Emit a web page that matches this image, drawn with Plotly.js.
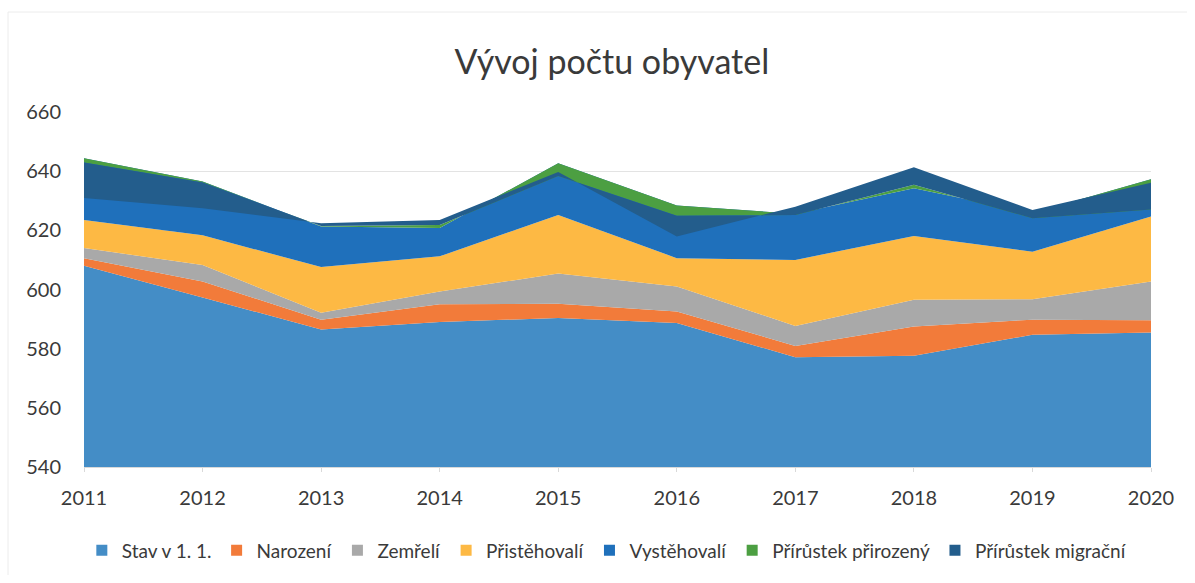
<!DOCTYPE html>
<html>
<head>
<meta charset="utf-8">
<script src="https://cdn.plot.ly/plotly-3.0.1.min.js"></script>
<style>
  html, body { margin: 0; padding: 0; background: #ffffff; }
  #chart { width: 1195px; height: 583px; }
</style>
</head>
<body>
<div id="chart"></div>
<script>
// ---- data ----
const years = [2011, 2012, 2013, 2014, 2015, 2016, 2017, 2018, 2019, 2020];
const stav         = [608.0, 597.3, 586.5, 589.0, 590.4, 588.7, 577.1, 577.6, 584.7, 585.5];
const narozeni     = [2.6, 5.4, 3.3, 6.0, 4.8, 3.9, 3.8, 9.9, 5.1, 4.1];
const zemreli      = [3.4, 5.6, 2.3, 4.3, 10.2, 8.4, 6.8, 9.0, 6.9, 13.1];
const pristehovali = [9.5, 10.0, 15.5, 11.9, 19.8, 9.6, 22.3, 21.6, 16.1, 22.0];
const vystehovali  = [20.9, 18.2, 13.7, 9.6, 17.5, 17.8, 15.6, 16.1, 13.1, 12.6];
const prirozeny    = [-1.5, -0.3, 0.2, 1.0, -4.3, -3.5, -0.4, 1.2, -1.8, -10.3];
const migracni     = [-12.0, -8.7, 0.9, 1.7, 1.3, -7.0, 2.8, 5.9, 2.8, 9.1];
const yTicks       = [540, 560, 580, 600, 620, 640, 660];

const seriesNames = ["Stav v 1. 1.", "Narození", "Zemřelí", "Přistěhovalí", "Vystěhovalí", "Přírůstek přirozený", "Přírůstek migrační"];
const seriesData  = [stav, narozeni, zemreli, pristehovali, vystehovali, prirozeny, migracni];
const colors = ["#448dc6", "#f27b3a", "#a9a9a9", "#fdb944", "#1f70bb", "#4c9f42", "#235d8c"];

const traces = [];
seriesData.forEach((vals, i) => {
  traces.push({
    type: "scatter",
    x: years,
    y: vals,
    name: seriesNames[i],
    stackgroup: "one",
    mode: "none",
    fillcolor: colors[i],
    line: { width: 0, shape: "linear" },
    showlegend: false,
    legendgroup: "g" + i
  });
});
// legend entries with square swatches
seriesData.forEach((vals, i) => {
  traces.push({
    type: "scatter",
    x: [null],
    y: [null],
    name: seriesNames[i],
    mode: "markers",
    marker: { symbol: "square", size: 11, color: colors[i] },
    legendgroup: "g" + i,
    showlegend: true
  });
});

const fontFam = "Lato, 'Noto Sans', sans-serif";
const W = 1195, H = 583;
const layout = {
  width: W,
  height: H,
  paper_bgcolor: "#ffffff",
  plot_bgcolor: "#ffffff",
  margin: { l: 84, r: 44, t: 112, b: 116, autoexpand: false },
  title: {
    text: "Vývoj počtu obyvatel",
    font: { family: fontFam, size: 34, color: "#3a3a3a" },
    x: 0.512, xanchor: "center",
    y: 0.893, yanchor: "middle"
  },
  xaxis: {
    range: [2011, 2020],
    tickmode: "array",
    tickvals: years,
    ticktext: years.map(String),
    showgrid: false,
    zeroline: false,
    showline: true,
    linecolor: "#d9d9d9",
    linewidth: 1,
    ticks: "outside",
    ticklen: 4,
    tickcolor: "#d9d9d9",
    ticklabelstandoff: 9,
    tickfont: { family: fontFam, size: 20, color: "#3a3a3a" },
    fixedrange: true
  },
  yaxis: {
    range: [540, 660],
    tickmode: "array",
    tickvals: yTicks,
    showgrid: true,
    gridcolor: "#e3e3e3",
    gridwidth: 1,
    zeroline: false,
    showline: false,
    ticks: "",
    ticklabelstandoff: 22,
    tickfont: { family: fontFam, size: 20, color: "#3a3a3a" },
    fixedrange: true
  },
  shapes: [
    { type: "line", xref: "paper", yref: "paper",
      x0: (8 - 84) / (W - 84 - 44), x1: (8 - 84) / (W - 84 - 44),
      y0: (H - 116 - 575) / (H - 112 - 116), y1: (H - 116 - 12) / (H - 112 - 116),
      line: { color: "#ececec", width: 1 } },
    { type: "line", xref: "paper", yref: "paper",
      x0: (8 - 84) / (W - 84 - 44), x1: (1187 - 84) / (W - 84 - 44),
      y0: (H - 116 - 12) / (H - 112 - 116), y1: (H - 116 - 12) / (H - 112 - 116),
      line: { color: "#ececec", width: 1 } }
  ],
  showlegend: true,
  legend: {
    orientation: "h",
    x: 0.49, xanchor: "center",
    y: -0.235, yanchor: "middle",
    font: { family: fontFam, size: 19, color: "#3a3a3a" },
    itemwidth: 30,
    tracegroupgap: 0,
    traceorder: "normal"
  },
  hovermode: false
};

Plotly.newPlot("chart", traces, layout, { displayModeBar: false, staticPlot: true });
</script>
</body>
</html>
